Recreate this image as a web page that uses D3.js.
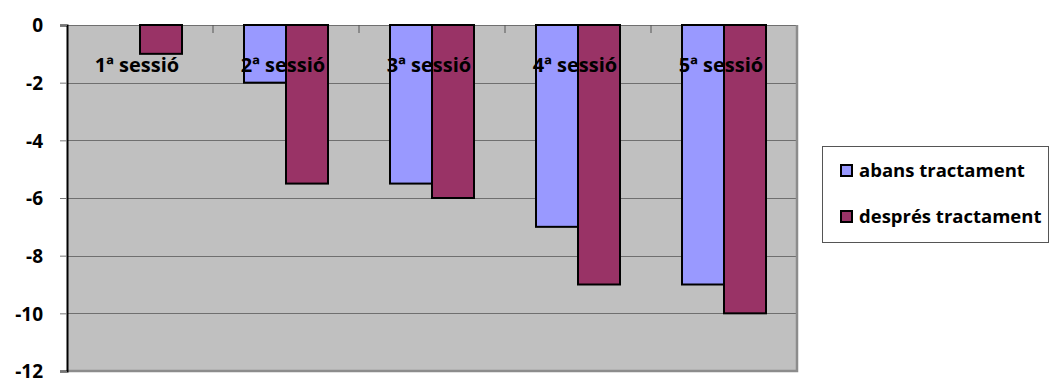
<!DOCTYPE html>
<html>
<head>
<meta charset="utf-8">
<script src="https://cdn.jsdelivr.net/npm/d3@7"></script>
<style>
  body { margin: 0; background: #fff; }
  text { font-family: "Open Sans", sans-serif; font-weight: 700; }
</style>
</head>
<body>
<svg id="chart" width="1049" height="378"></svg>
<script>
// Data
const sessions = ['1ª sessió', '2ª sessió', '3ª sessió', '4ª sessió', '5ª sessió'];
const abans = [0, -2, -5.5, -7, -9];
const despres = [-1, -5.5, -6, -9, -10];
const seriesNames = ['abans tractament', 'després tractament'];
const yTicks = [0, -2, -4, -6, -8, -10, -12];

const colors = ['#9999ff', '#993366'];

const margin = { top: 25, right: 252, bottom: 7, left: 67 };
const width = 1049 - margin.left - margin.right,
    height = 378 - margin.top - margin.bottom;

const svg = d3.select('#chart');
const g = svg.append('g').attr('transform', `translate(${margin.left},${margin.top})`);

const xScale = d3.scaleBand().domain(sessions).range([0, width]);
const inner = d3.scaleBand().domain(seriesNames).range([0, 84]);
const yScale = d3.scaleLinear().domain([0, -12]).range([0, height]);

// plot background
g.append('rect')
    .attr('width', width).attr('height', height)
    .attr('fill', '#c0c0c0');

// gridlines
g.append('g').selectAll('line')
    .data(yTicks.slice(0, -1))
    .join('line')
        .attr('x1', 0).attr('x2', width)
        .attr('y1', d => Math.round(yScale(d)) + 0.5)
        .attr('y2', d => Math.round(yScale(d)) + 0.5)
        .attr('stroke', '#6f6f6f');

// border (right & bottom shadow)
g.append('path')
    .attr('d', `M${width},0V${height}H0`)
    .attr('fill', 'none').attr('stroke', '#8c8c8c').attr('stroke-width', 2.5);

// category ticks at the top
g.append('g').selectAll('line')
    .data(sessions.slice(1))
    .join('line')
        .attr('x1', d => xScale(d)).attr('x2', d => xScale(d))
        .attr('y1', 0).attr('y2', 8)
        .attr('stroke', '#555');

// bars
const series = [abans, despres];
g.append('g').selectAll('g')
    .data(series)
    .join('g')
        .attr('fill', (d, i) => colors[i])
    .selectAll('rect')
        .data((d, i) => d.map((v, j) => ({ v, j, i })).filter(o => o.v !== 0))
        .join('rect')
            .attr('x', d => xScale(sessions[d.j]) + xScale.bandwidth() / 2 - 42 + inner(seriesNames[d.i]))
            .attr('y', yScale(0))
            .attr('width', inner.bandwidth())
            .attr('height', d => yScale(d.v) - yScale(0))
            .attr('stroke', '#000')
            .attr('stroke-width', 2);

// y axis
const yAxis = d3.axisLeft(yScale).tickValues(yTicks).tickSize(7).tickFormat(d => String(d));
const yAxisG = g.append('g').call(yAxis);
yAxisG.select('.domain').attr('stroke', '#000').attr('stroke-width', 2);
yAxisG.selectAll('.tick line').attr('stroke', '#777');
yAxisG.selectAll('.tick text')
    .attr('x', -24)
    .attr('dy', '0.36em')
    .style('font-size', '19px')
    .attr('fill', '#000');

// category labels
g.append('g').selectAll('text')
    .data(sessions)
    .join('text')
        .attr('x', d => xScale(d) + xScale.bandwidth() / 2 - 3)
        .attr('y', 47)
        .attr('text-anchor', 'middle')
        .style('font-size', '20px')
        .text(d => d);

// legend
const legend = svg.append('g').attr('transform', 'translate(822,146)');
legend.append('rect')
    .attr('x', 0.5).attr('y', 0.5).attr('width', 226).attr('height', 96)
    .attr('fill', '#fff').attr('stroke', '#555');
legend.selectAll('g')
    .data(seriesNames)
    .join('g')
        .attr('transform', (d, i) => `translate(19,${19 + i * 46})`)
        .call(s => s.append('rect')
            .attr('width', 11).attr('height', 11)
            .attr('fill', (d, i) => colors[i])
            .attr('stroke', '#000').attr('stroke-width', 2))
        .call(s => s.append('text')
            .attr('x', 18).attr('y', 12)
            .style('font-size', '18.5px')
            .text(d => d));
</script>
</body>
</html>
